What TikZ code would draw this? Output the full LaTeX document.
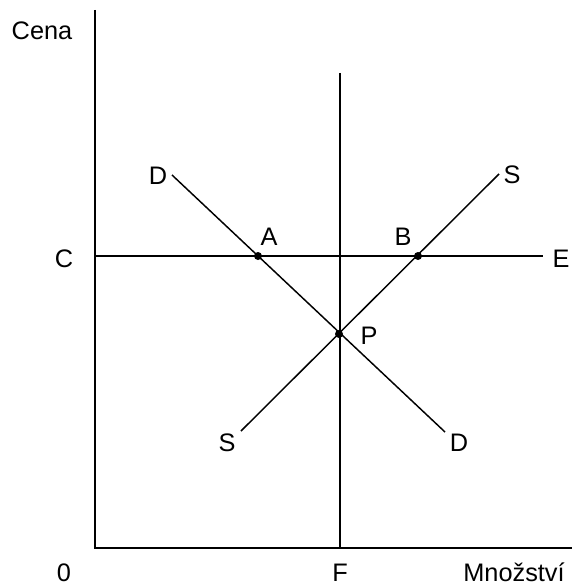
\documentclass[tikz,border=0pt]{standalone}
\usepackage{fontspec}
\setmainfont{Liberation Sans}
\usepackage{tikz}
\usetikzlibrary{calc}

\begin{document}
\begin{tikzpicture}[x=0.75pt, y=-0.75pt, line width=1.1pt,
  lbl/.style={anchor=base, inner sep=0pt, font=\fontsize{19}{22}\selectfont},
  pt/.style={circle, fill=black, inner sep=0pt, minimum size=6pt}]
\useasboundingbox (0,0) rectangle (572,585);

% axes
\coordinate (top) at (95,10);
\coordinate (origin) at (95,548);
\coordinate (right) at (572,548);
\draw (top) -- (origin) -- (right);

% vertical line at F and horizontal line at C
\coordinate (ftop) at (340,73);
\coordinate (fbot) at (340,548);
\draw (ftop) -- (fbot);
\coordinate (cleft) at (95,256);
\coordinate (eright) at (543,256);
\draw (cleft) -- (eright);

% demand and supply
\coordinate (d1) at (172,175);
\coordinate (d2) at (445,432);
\coordinate (s1) at (241,431);
\coordinate (s2) at (499,174);
\draw (d1) -- (d2);
\draw (s1) -- (s2);

% points
\node[pt] (A) at (258,256) {};
\node[pt] (B) at (418,256) {};
\node[pt] (P) at (339,334) {};

% labels
\node[lbl] (cena) at (42,40) {Cena};
\node[lbl] (lC) at (64,267) {C};
\node[lbl] (lE) at (561,267) {E};
\node[lbl] (l0) at (64,581) {0};
\node[lbl] (lF) at (340,581) {F};
\node[lbl] (mnoz) at (514,581) {Množství};
\node[lbl] (lD1) at (158,184) {D};
\node[lbl] (lS1) at (512,183) {S};
\node[lbl] (lA) at (269,245) {A};
\node[lbl] (lB) at (403,245) {B};
\node[lbl] (lP) at (369,344) {P};
\node[lbl] (lS2) at (227,451) {S};
\node[lbl] (lD2) at (459,451) {D};
\end{tikzpicture}
\end{document}
